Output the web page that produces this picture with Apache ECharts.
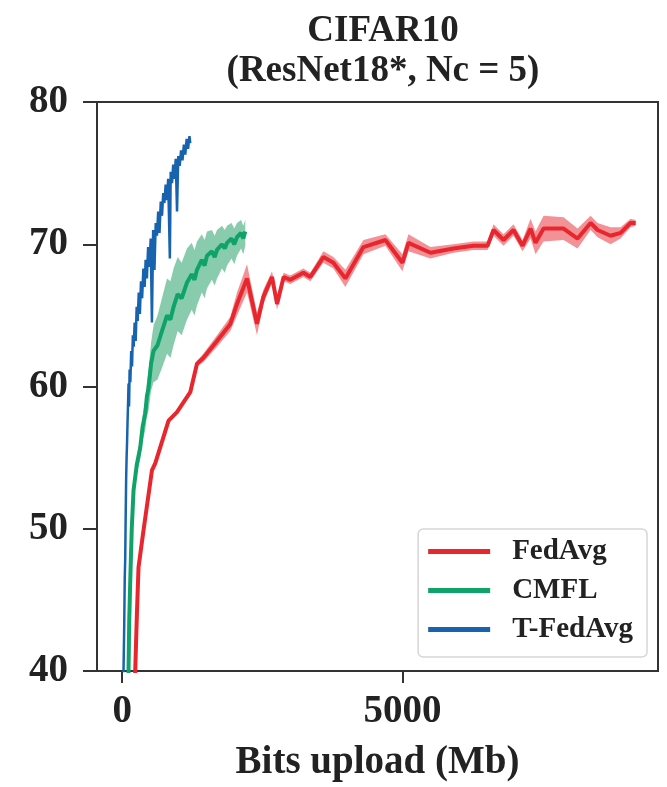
<!DOCTYPE html>
<html>
<head>
<meta charset="utf-8">
<script src="https://cdn.jsdelivr.net/npm/echarts@6/dist/echarts.min.js"></script>
<style>
  body { margin: 0; background: #fff; }
  #chart { width: 667px; height: 787px; }
</style>
</head>
<body>
<div id="chart"></div>
<script>
// values
const fedAvg = [[215,37],[232,40.0],[262,44.0],[291,47.3],[380,49.9],[530,54.1],[589,54.6],[827,57.6],[977,58.2],[1214,59.6],
  [1334,61.6],[1446,62.0],[1691,63.2],[1929,64.4],[2048,65.8],[2227,67.6],[2405,64.4],[2518,66.3],[2673,67.7],[2763,65.8],
  [2880,67.7],[3000,67.5],[3232,68.0],[3357,67.7],[3589,69.1],[3768,68.7],[3982,67.6],[4304,69.8],[4696,70.3],[5000,68.7],
  [5107,70.1],[5500,69.4],[5911,69.7],[6268,69.9],[6518,69.9],[6625,71.0],[6804,70.3],[6982,71.0],[7143,69.9],[7286,71.1],
  [7375,70.1],[7518,71.1],[7875,71.1],[8125,70.4],[8357,71.5],[8482,71.0],[8714,70.6],[8893,70.8],[9071,71.5],[9161,71.5]];
const fedAvgSpread = [0.1,0.1,0.1,0.1,0.1,0.1,0.1,0.1,0.1,0.1,
  0.2,0.3,0.4,0.5,0.8,1.0,0.8,0.5,0.4,0.4,
  0.3,0.3,0.3,0.3,0.4,0.4,0.6,0.5,0.4,0.6,
  0.6,0.4,0.3,0.3,0.3,0.4,0.4,0.4,0.4,0.7,
  0.8,0.9,0.8,0.7,0.5,0.5,0.6,0.4,0.3,0.2];

const cmfl = [[100,37],[112,40],[125,43.5],[143,46.3],[170,50],[202,52.7],[260,54.5],[321,55.7],[365,57.2],[411,58.1],
  [440,59.3],[470,59.9],[515,61.6],[559,62.5],[630,62.9],[709,63.9],[800,65.0],[860,64.7],[916,65.6],[990,66.5],
  [1060,66.2],[1155,67.3],[1240,67.9],[1290,67.5],[1334,68.2],[1420,68.9],[1470,68.5],[1513,69.2],[1600,69.5],[1650,69.1],
  [1691,69.6],[1780,70.0],[1830,69.7],[1870,70.1],[1950,70.4],[2000,70.0],[2048,70.5],[2120,70.8],[2160,70.4],[2196,70.9]];
const cmflUp = [0,0,0.1,0.2,0.3,0.4,0.5,0.6,0.8,0.9,1.0,1.2,1.5,1.8,2.1,2.3,2.6,2.7,2.7,2.6,
  2.5,2.4,2.2,2.1,2.0,1.8,1.8,1.7,1.5,1.5,1.4,1.3,1.3,1.2,1.1,1.1,1.0,0.9,0.9,0.8];
const cmflDown = [0,0,0.1,0.2,0.3,0.5,0.6,0.8,1.0,1.2,1.4,1.6,1.9,2.2,2.4,2.6,2.7,2.7,2.7,2.6,
  2.6,2.6,2.5,2.5,2.5,2.3,2.3,2.3,2.0,2.0,2.0,1.7,1.7,1.6,1.4,1.4,1.3,1.1,1.1,1.0];

const tFedAvg = [[15,36],[23,40],[35,43],[45,46.5],[54,48],[62,51],[70,53.5],[78,55],[86,56],[95,57.5],
  [104,58.8],[113,60.2],[122,58.6],[132,61.2],[145,60.3],[160,62.5],[175,61.4],[190,63.6],[205,62.8],[222,64.5],
  [240,63.2],[258,65.6],[276,64.6],[295,66.6],[315,65.1],[335,67.4],[355,66.2],[378,68.3],[400,67.0],[418,68.9],
  [440,67.6],[462,69.8],[485,68.4],[508,70.4],[530,64.5],[552,71.0],[575,68.2],[598,71.5],[620,70.6],[642,72.3],
  [665,70.8],[688,73.0],[710,72.0],[732,73.6],[752,72.9],[775,74.2],[798,73.1],[820,74.6],[850,69.0],[865,75.1],
  [888,74.3],[910,75.6],[932,74.6],[955,76.0],[978,72.3],[1000,76.2],[1025,75.5],[1050,76.6],[1075,75.9],[1100,77.0],
  [1125,76.3],[1150,77.4],[1175,76.7],[1200,77.6],[1214,77.1]];

const xTicks = [0, 5000];
const legendNames = ["FedAvg", "CMFL", "T-FedAvg"];

const RED = "#e8262e", GREEN = "#0fa36a", BLUE = "#1763ad";
const FONT = "Liberation Serif";

// shaded spread drawn as one polygon through the axis scales
function band(line, up, down, color, opacity) {
  return {
    type: "custom",
    silent: true,
    clip: true,
    data: line.map((p, i) => [p[0], p[1] - down[i], p[1] + up[i]]),
    encode: { x: 0, y: [1, 2] },
    renderItem: (params, api) => {
      if (params.dataIndex !== 0) return null;
      const top = line.map((p, i) => api.coord([p[0], p[1] + up[i]]));
      const bot = line.map((p, i) => api.coord([p[0], p[1] - down[i]])).reverse();
      return {
        type: "polygon",
        shape: { points: top.concat(bot) },
        style: { fill: color, opacity: opacity }
      };
    }
  };
}

const chart = echarts.init(document.getElementById("chart"));
const option = {
  animation: false,
  title: {
    text: "CIFAR10\n(ResNet18*, Nc = 5)",
    left: 378,
    top: 6,
    textAlign: "center",
    textStyle: { fontFamily: FONT, fontWeight: "bold", fontSize: 37, lineHeight: 40, color: "#222" }
  },
  grid: {
    left: 97, right: 9, top: 102, bottom: 115,
    show: true, borderColor: "#333", borderWidth: 2, backgroundColor: "#fff"
  },
  legend: {
    data: legendNames,
    orient: "vertical",
    right: 20,
    bottom: 130,
    icon: "rect",
    itemWidth: 62,
    itemHeight: 5,
    itemGap: 10,
    padding: [8, 14, 13, 10],
    borderColor: "#d6d6d6",
    borderWidth: 1.5,
    borderRadius: 5,
    backgroundColor: "#fff",
    textStyle: { fontFamily: FONT, fontWeight: "bold", fontSize: 29, lineHeight: 29, color: "#222", padding: [0, 0, 0, 17] }
  },
  xAxis: {
    type: "value",
    min: -450,
    max: 9560,
    name: "Bits upload (Mb)",
    nameLocation: "middle",
    nameGap: 72,
    nameTextStyle: { fontFamily: FONT, fontWeight: "bold", fontSize: 39, color: "#222" },
    axisLine: { show: true, onZero: false, lineStyle: { color: "#333", width: 2 } },
    axisTick: { show: true, customValues: xTicks, length: 12, lineStyle: { color: "#333", width: 2 } },
    axisLabel: {
      customValues: xTicks, margin: 21, formatter: v => String(v),
      fontFamily: FONT, fontWeight: "bold", fontSize: 39, color: "#222"
    },
    splitLine: { show: false }
  },
  yAxis: {
    type: "value",
    min: 40,
    max: 80,
    interval: 10,
    axisLine: { show: true, onZero: false, lineStyle: { color: "#333", width: 2 } },
    axisTick: { show: true, length: 14, lineStyle: { color: "#333", width: 2 } },
    axisLabel: { margin: 29, fontFamily: FONT, fontWeight: "bold", fontSize: 39, color: "#222" },
    splitLine: { show: false }
  },
  series: [
    band(fedAvg, fedAvgSpread, fedAvgSpread, RED, 0.5),
    {
      name: "FedAvg", type: "line", data: fedAvg, symbol: "none", color: RED,
      lineStyle: { color: RED, width: 4 }
    },
    band(cmfl, cmflUp, cmflDown, "#3aa877", 0.6),
    {
      name: "CMFL", type: "line", data: cmfl, symbol: "none", color: GREEN,
      lineStyle: { color: GREEN, width: 4 }
    },
    {
      name: "T-FedAvg", type: "line", data: tFedAvg, symbol: "none", color: BLUE,
      lineStyle: { color: BLUE, width: 2.5 }
    }
  ]
};
chart.setOption(option);
</script>
</body>
</html>
